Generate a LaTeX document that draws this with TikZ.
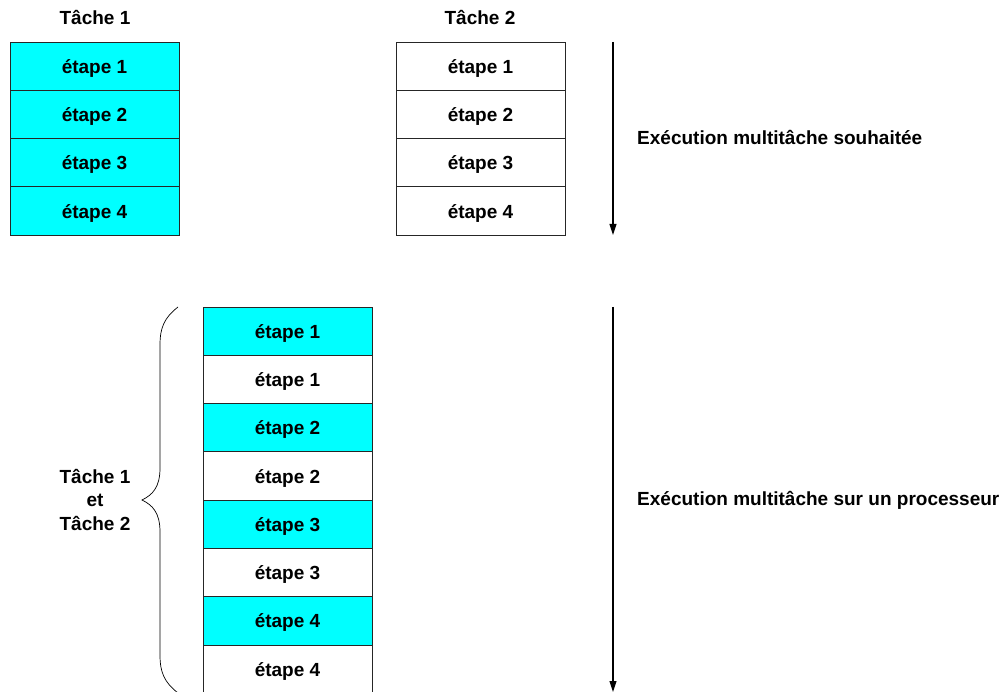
\documentclass[tikz,border=0pt]{standalone}
\usepackage{fontspec}
\setmainfont{Liberation Sans}
\usetikzlibrary{arrows.meta}
\begin{document}
\begin{tikzpicture}[x=1pt,y=-1pt,
  font=\fontsize{19}{23.5}\selectfont\bfseries,
  etape/.style={draw=black!85,line width=0.8pt,minimum width=169pt,minimum height=48.3pt,inner sep=0pt,text height=14pt,text depth=0pt},
  cyan/.style={etape,fill={rgb,255:red,0;green,255;blue,255}},
  blanc/.style={etape,fill=white},
  fleche/.style={line width=1.1pt,-{Triangle[length=11pt,width=7pt]}}]
\useasboundingbox (0,0) rectangle (1005,692);
\node (t1) at (95,18){Tâche 1};
\node (t2) at (480,18){Tâche 2};
\node[cyan] (a1) at (94.5,66.15){étape 1};
\node[cyan] (a2) at (94.5,114.45){étape 2};
\node[cyan] (a3) at (94.5,162.75){étape 3};
\node[cyan] (a4) at (94.5,211.05){étape 4};
\node[blanc] (b1) at (480.5,66.15){étape 1};
\node[blanc] (b2) at (480.5,114.45){étape 2};
\node[blanc] (b3) at (480.5,162.75){étape 3};
\node[blanc] (b4) at (480.5,211.05){étape 4};
\node[cyan] (m1) at (287.5,331.15){étape 1};
\node[blanc] (m2) at (287.5,379.45){étape 1};
\node[cyan] (m3) at (287.5,427.75){étape 2};
\node[blanc] (m4) at (287.5,476.05){étape 2};
\node[cyan] (m5) at (287.5,524.35){étape 3};
\node[blanc] (m6) at (287.5,572.65){étape 3};
\node[cyan] (m7) at (287.5,620.95){étape 4};
\node[blanc] (m8) at (287.5,669.25){étape 4};
% fleches du temps
\coordinate (h1) at (613,42);
\coordinate (f1) at (613,235);
\coordinate (h2) at (613,307);
\coordinate (f2) at (613,692);
\draw[fleche] (h1) -- (f1);
\draw[fleche] (h2) -- (f2);
\node[anchor=west,inner sep=0pt] (e1) at (637,138){Exécution multitâche souhaitée};
\node[anchor=west,inner sep=0pt] (e2) at (637,500){Exécution multitâche sur un processeur};
% accolade
\coordinate (ah) at (178,307);
\coordinate (ap) at (142,500);
\coordinate (ab) at (178,693);
\draw[line width=0.7pt] (ah) .. controls (164,318) and (160,328) .. (160,345) -- (160,468)
  .. controls (160,488) and (152,495) .. (ap)
  .. controls (152,505) and (160,512) .. (160,532) -- (160,655)
  .. controls (160,672) and (164,682) .. (ab);
\node[align=center] (tt) at (95,500){Tâche 1\\et\\Tâche 2};
\end{tikzpicture}
\end{document}
